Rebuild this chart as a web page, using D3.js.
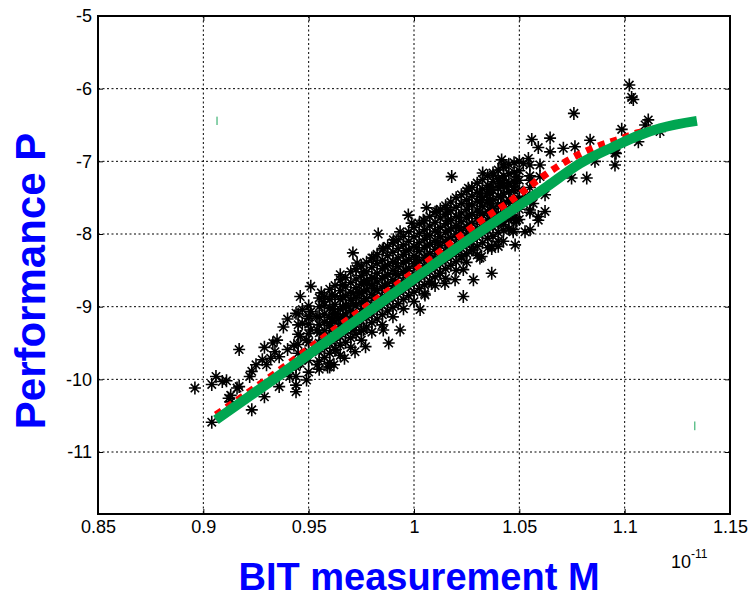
<!DOCTYPE html>
<html>
<head>
<meta charset="utf-8">
<script src="https://cdn.jsdelivr.net/npm/d3@7"></script>
<style>
  body { margin: 0; background: #fff; }
  svg { display: block; font-family: "Liberation Sans", Arial, sans-serif; }
</style>
</head>
<body>
<div id="chart-area"></div>
<script>
// axis ticks
const xTicks = [0.85, 0.9, 0.95, 1, 1.05, 1.1, 1.15]
const xTickLabels = ["0.85", "0.9", "0.95", "1", "1.05", "1.1", "1.15"]
const yTicks = [-11, -10, -9, -8, -7, -6, -5]
const yTickLabels = ["-11", "-10", "-9", "-8", "-7", "-6", "-5"]

// fitted curve (green) and model curve (red dotted), M in 1e-11 units
const fitM = [0.906, 0.9364, 0.9663, 1.0, 1.0313, 1.0631, 1.0788, 1.0945, 1.1073, 1.1168, 1.1343]
const fitP = [-10.557, -9.938, -9.319, -8.617, -7.971, -7.348, -7.03, -6.802, -6.637, -6.545, -6.444]
const modelM = [0.906, 0.9364, 0.9639, 1.0, 1.0209, 1.0337, 1.0465, 1.0589, 1.0717, 1.085, 1.0992, 1.1059, 1.1192, 1.1334]
const modelP = [-10.488, -9.869, -9.278, -8.521, -8.053, -7.778, -7.531, -7.256, -7.008, -6.816, -6.678, -6.609, -6.527, -6.444]

// scattered measurements outside the dense core
const scatterSparse = [
  [0.896,-10.12],[0.904,-10.07],[0.906,-9.96],[0.909,-10.03],[0.911,-10.02],[0.904,-10.59],
  [0.912,-10.26],[0.913,-10.31],[0.916,-10.12],[0.917,-10.10],[0.913,-10.22],[0.917,-9.59],
  [0.922,-9.96],[0.923,-9.89],[0.925,-9.80],[0.928,-9.73],[0.929,-9.56],[0.930,-9.80],
  [0.932,-9.71],[0.933,-9.50],[0.934,-9.62],[0.935,-9.46],[0.936,-9.69],[0.936,-10.10],
  [0.929,-10.24],[0.923,-10.42],[0.938,-9.28],[0.940,-9.17],[0.940,-9.59],[0.941,-9.96],
  [0.941,-9.87],[0.943,-9.53],[0.944,-10.17],[0.944,-9.96],[0.944,-9.83],[0.944,-10.08],
  [0.946,-9.78],[0.949,-10.01],[0.946,-9.41],[0.947,-9.23],[0.944,-9.09],[0.946,-8.86],
  [0.947,-9.04],[0.949,-9.46],[0.950,-9.16],[0.951,-9.07],[0.951,-8.72],[0.951,-9.32],
  [0.954,-9.14],[0.954,-9.32],[0.954,-9.80],[0.956,-8.81],[0.957,-8.93],[0.957,-9.46],
  [0.959,-9.83],[0.960,-9.23],[0.961,-8.84],[0.962,-9.11],[0.962,-9.80],[0.963,-9.59],
  [0.964,-9.16],[0.965,-8.56],[0.966,-8.70],[0.966,-9.32],[0.967,-9.71],[0.968,-9.00],
  [0.971,-8.26],[0.971,-9.32],[0.972,-9.62],[0.973,-8.40],[0.973,-9.14],[0.974,-8.81],
  [0.976,-8.52],[0.976,-9.32],[0.977,-9.55],[0.978,-9.04],[0.978,-8.68],[0.960,-9.83],
  [0.988,-9.50],
  [0.983,-8.00],[0.9934,-7.97],[0.9973,-7.74],[0.9989,-7.85],[1.0044,-7.81],[1.006,-7.64],
  [1.0108,-7.69],[1.0155,-7.67],[1.0179,-7.21],[1.0258,-7.37],[1.0313,-7.44],[1.0326,-7.16],
  [1.0368,-7.39],[1.0377,-7.19],[1.0424,-7.26],[1.048,-7.30],[0.9807,-8.33],[0.9854,-8.20],
  [0.9902,-8.08],[1.0369,-8.54],[1.0282,-8.63],[1.0234,-8.86],[1.0147,-8.68],[1.0195,-8.63],
  [1.0234,-8.49],[1.0226,-8.31],[1.0313,-8.33],[1.0369,-8.20],[1.0424,-8.10],[1.048,-8.15],
  [1.0282,-8.22],[1.0471,-7.97],[1.048,-7.81],[1.0456,-7.55],[0.9934,-9.32],[0.9854,-9.32],
  [1.0029,-9.04],[1.0052,-8.84],[1.0084,-8.68],[1.0123,-8.54],
  [1.0759,-6.34],[1.0559,-6.70],[1.0646,-6.68],[1.059,-6.81],[1.0646,-6.87],[1.0709,-6.82],
  [1.0764,-6.80],[1.0836,-6.71],[1.0986,-6.56],[1.1097,-6.50],[1.1112,-6.43],[1.1065,-6.73],
  [1.0954,-6.88],[1.0954,-7.05],[1.082,-7.23],[1.0748,-7.23],[1.0622,-7.46],[1.0622,-7.69],
  [1.059,-7.76],[1.0543,-6.96],[1.0519,-7.03],[1.0416,-6.98],[1.0424,-7.05],[1.0598,-7.05],
  [1.0598,-7.21],[1.0551,-7.26],[1.0488,-7.21],[1.0471,-7.39],[1.0408,-7.30],[1.0345,-7.44],
  [1.0527,-7.48],[1.0566,-7.58],[1.0551,-7.67],[1.0488,-7.81],[1.0527,-7.97],[1.0471,-7.94],
  [1.0424,-7.87],[1.0377,-7.71],[1.036,-7.58],[1.0321,-7.53],[1.0369,-8.17],[1.0321,-8.31],
  [1.044,-7.35],[1.0495,-7.55],[1.1022,-5.95],[1.1033,-6.12],[1.1041,-6.15],[1.1168,-6.59],
  [1.0959,-6.89],[1.0859,-7.0],[1.059,-7.81],[1.0551,-7.94],[1.040,-8.17]
]

// dense core: M column and the P values read down that column
const coreColumns = [
  [0.945, [-9.10,-9.25,-9.38,-9.52,-9.64,-9.78]],
  [0.950, [-8.99,-9.13,-9.24,-9.37,-9.49,-9.62,-9.74,-9.90]],
  [0.955, [-8.88,-9.00,-9.14,-9.25,-9.36,-9.50,-9.62,-9.75,-9.86]],
  [0.9575, [-8.86,-8.98,-9.10,-9.21,-9.33,-9.45,-9.57,-9.70]],
  [0.960, [-8.76,-8.90,-9.02,-9.15,-9.26,-9.40,-9.51,-9.64,-9.77]],
  [0.9625, [-8.71,-8.85,-8.97,-9.09,-9.21,-9.34,-9.46,-9.60]],
  [0.965, [-8.63,-8.78,-8.90,-9.04,-9.15,-9.28,-9.41,-9.53,-9.67]],
  [0.9675, [-8.60,-8.73,-8.85,-8.98,-9.10,-9.23,-9.36,-9.49]],
  [0.970, [-8.52,-8.67,-8.80,-8.91,-9.05,-9.17,-9.30,-9.43,-9.56]],
  [0.9725, [-8.48,-8.62,-8.74,-8.87,-8.99,-9.12,-9.25,-9.38]],
  [0.975, [-8.44,-8.57,-8.69,-8.81,-8.94,-9.07,-9.19,-9.33,-9.46]],
  [0.9775, [-8.39,-8.52,-8.64,-8.77,-8.89,-9.02,-9.15,-9.28]],
  [0.980, [-8.33,-8.46,-8.60,-8.71,-8.83,-8.97,-9.10,-9.22,-9.35]],
  [0.9825, [-8.28,-8.41,-8.54,-8.66,-8.78,-8.91,-9.04,-9.17]],
  [0.985, [-8.22,-8.36,-8.48,-8.61,-8.73,-8.86,-8.98,-9.11,-9.25]],
  [0.9875, [-8.17,-8.30,-8.43,-8.56,-8.68,-8.80,-8.93,-9.06]],
  [0.990, [-8.12,-8.25,-8.38,-8.50,-8.63,-8.75,-8.88,-9.01,-9.14]],
  [0.9925, [-8.08,-8.20,-8.33,-8.45,-8.57,-8.70,-8.83,-8.96]],
  [0.995, [-8.03,-8.15,-8.28,-8.40,-8.52,-8.65,-8.77,-8.90,-9.03]],
  [0.9975, [-7.97,-8.10,-8.22,-8.35,-8.47,-8.60,-8.72,-8.85]],
  [1.000, [-7.91,-8.04,-8.17,-8.30,-8.41,-8.55,-8.67,-8.80,-8.93]],
  [1.0025, [-7.86,-7.99,-8.12,-8.24,-8.37,-8.49,-8.62,-8.75]],
  [1.005, [-7.82,-7.94,-8.07,-8.19,-8.32,-8.44,-8.57,-8.70,-8.82]],
  [1.0075, [-7.76,-7.89,-8.02,-8.14,-8.27,-8.39,-8.52,-8.65]],
  [1.010, [-7.70,-7.84,-7.96,-8.09,-8.21,-8.33,-8.46,-8.59,-8.71]],
  [1.0125, [-7.66,-7.78,-7.91,-8.04,-8.16,-8.28,-8.41,-8.54]],
  [1.015, [-7.61,-7.73,-7.86,-7.98,-8.10,-8.23,-8.36,-8.48,-8.61]],
  [1.0175, [-7.56,-7.68,-7.81,-7.93,-8.05,-8.18,-8.31,-8.43]],
  [1.020, [-7.50,-7.63,-7.76,-7.88,-8.00,-8.13,-8.25,-8.38,-8.50]],
  [1.0225, [-7.46,-7.58,-7.71,-7.83,-7.95,-8.08,-8.20,-8.33]],
  [1.025, [-7.41,-7.53,-7.66,-7.78,-7.90,-8.02,-8.15,-8.27,-8.39]],
  [1.0275, [-7.36,-7.48,-7.60,-7.73,-7.85,-7.97,-8.10,-8.22]],
  [1.030, [-7.30,-7.43,-7.55,-7.67,-7.79,-7.92,-8.04,-8.17,-8.29]],
  [1.0325, [-7.25,-7.38,-7.50,-7.62,-7.74,-7.87,-7.99,-8.12]],
  [1.035, [-7.20,-7.33,-7.45,-7.57,-7.69,-7.81,-7.94,-8.06,-8.19]],
  [1.0375, [-7.16,-7.28,-7.40,-7.53,-7.65,-7.77,-7.90,-8.03]],
  [1.040, [-7.12,-7.24,-7.36,-7.48,-7.60,-7.72,-7.85,-7.98,-8.10]],
  [1.0425, [-7.08,-7.20,-7.33,-7.45,-7.57,-7.70,-7.83,-7.95]],
  [1.045, [-7.04,-7.17,-7.30,-7.42,-7.54,-7.66,-7.80,-7.93]],
  [1.0475, [-7.02,-7.15,-7.28,-7.40,-7.53,-7.66,-7.79]],
  [1.050, [-7.00,-7.13,-7.26,-7.39,-7.52,-7.66,-7.80]],
  [1.055, [-7.05,-7.20,-7.36,-7.52,-7.70]]
]

// extra points in the solid centre of the band
const coreFill = [
  [0.9612,-9.03],[0.9612,-9.17],[0.9612,-9.30],
  [0.9662,-8.86],[0.9662,-9.00],[0.9662,-9.14],[0.9662,-9.28],
  [0.9712,-8.82],[0.9712,-8.96],[0.9712,-9.08],
  [0.9762,-8.65],[0.9762,-8.79],[0.9762,-8.93],[0.9762,-9.07],
  [0.9812,-8.61],[0.9812,-8.75],[0.9812,-8.87],
  [0.9862,-8.44],[0.9862,-8.58],[0.9862,-8.72],[0.9862,-8.86],
  [0.9912,-8.40],[0.9912,-8.54],[0.9912,-8.66],
  [0.9962,-8.23],[0.9962,-8.37],[0.9962,-8.51],[0.9962,-8.65],
  [1.0012,-8.19],[1.0012,-8.33],[1.0012,-8.45],
  [1.0062,-8.02],[1.0062,-8.16],[1.0062,-8.30],[1.0062,-8.44],
  [1.0112,-7.98],[1.0112,-8.12],[1.0112,-8.24],
  [1.0162,-7.81],[1.0162,-7.95],[1.0162,-8.09],[1.0162,-8.23],
  [1.0212,-7.77],[1.0212,-7.91],[1.0212,-8.03],
  [1.0262,-7.60],[1.0262,-7.74],[1.0262,-7.88],[1.0262,-8.02],
  [1.0312,-7.56],[1.0312,-7.70],[1.0312,-7.82],
  [1.0362,-7.39],[1.0362,-7.53],[1.0362,-7.67],[1.0362,-7.81],
  [1.0412,-7.35],[1.0412,-7.49],[1.0412,-7.61]
]

// two stray green ticks left in the figure
const strayMarks = [[0.9065, -6.385, -6.50], [1.1333, -10.58, -10.70]]

const MARGIN = { LEFT: 98, RIGHT: 20, TOP: 16, BOTTOM: 84 }
const WIDTH = 750 - MARGIN.LEFT - MARGIN.RIGHT
const HEIGHT = 598 - MARGIN.TOP - MARGIN.BOTTOM

const svg = d3.select("#chart-area").append("svg")
  .attr("width", 750)
  .attr("height", 598)

const g = svg.append("g")
  .attr("transform", `translate(${MARGIN.LEFT}, ${MARGIN.TOP})`)

const x = d3.scaleLinear().domain([0.85, 1.15]).range([0, WIDTH])
const y = d3.scaleLinear().domain([-11.853, -5]).range([HEIGHT, 0])

// dotted grid
g.append("g").selectAll("line").data(xTicks).enter().append("line")
  .attr("x1", d => x(d)).attr("x2", d => x(d))
  .attr("y1", 0).attr("y2", HEIGHT)
  .attr("stroke", "#000").attr("stroke-width", 1).attr("stroke-dasharray", "2,2.5")
g.append("g").selectAll("line").data(yTicks).enter().append("line")
  .attr("x1", 0).attr("x2", WIDTH)
  .attr("y1", d => y(d)).attr("y2", d => y(d))
  .attr("stroke", "#000").attr("stroke-width", 1).attr("stroke-dasharray", "2,2.5")

// axes with inward ticks
const xAxis = d3.axisBottom(x).tickValues(xTicks)
  .tickFormat((d, i) => xTickLabels[i]).tickSizeInner(-5).tickSizeOuter(0).tickPadding(6)
const yAxis = d3.axisLeft(y).tickValues(yTicks)
  .tickFormat((d, i) => yTickLabels[i]).tickSizeInner(-5).tickSizeOuter(0).tickPadding(6)

g.append("g").attr("transform", `translate(0, ${HEIGHT})`).call(xAxis)
g.append("g").call(yAxis)
g.append("g").call(d3.axisTop(x).tickValues(xTicks).tickFormat("").tickSizeInner(-5).tickSizeOuter(0))
g.append("g").attr("transform", `translate(${WIDTH}, 0)`)
  .call(d3.axisRight(y).tickValues(yTicks).tickFormat("").tickSizeInner(-5).tickSizeOuter(0))

g.selectAll(".domain").remove()
g.selectAll(".tick line").attr("stroke", "#000").attr("stroke-width", 1)
g.selectAll(".tick text").attr("font-size", 18).attr("fill", "#000")
  .attr("font-family", "Liberation Sans, Arial, sans-serif")

// measurements as asterisks
const allPoints = scatterSparse.concat(
  coreColumns.flatMap(c => c[1].map(p => [c[0], p])), coreFill)
const star = "M0,-6.5V6.5M-6,0H6M-4.2,-4.2L4.2,4.2M-4.2,4.2L4.2,-4.2"
g.append("g").selectAll("path").data(allPoints).enter().append("path")
  .attr("d", star)
  .attr("transform", d => `translate(${x(d[0])}, ${y(d[1])})`)
  .attr("fill", "none").attr("stroke", "#000").attr("stroke-width", 1.6)

const line = d3.line().curve(d3.curveMonotoneX)
  .x(d => x(d[0])).y(d => y(d[1]))

g.append("path")
  .datum(modelM.map((m, i) => [m, modelP[i]]))
  .attr("d", line)
  .attr("fill", "none").attr("stroke", "#ff0000")
  .attr("stroke-width", 7).attr("stroke-dasharray", "7,6")

g.append("path")
  .datum(fitM.map((m, i) => [m, fitP[i]]))
  .attr("d", line)
  .attr("fill", "none").attr("stroke", "#00a651").attr("stroke-width", 10)

g.append("g").selectAll("line").data(strayMarks).enter().append("line")
  .attr("x1", d => x(d[0])).attr("x2", d => x(d[0]))
  .attr("y1", d => y(d[1])).attr("y2", d => y(d[2]))
  .attr("stroke", "#1aa55a").attr("stroke-width", 1)

// box
g.append("rect")
  .attr("width", WIDTH).attr("height", HEIGHT)
  .attr("fill", "none").attr("stroke", "#000").attr("stroke-width", 2)

// exponent label
const expo = svg.append("text")
  .attr("x", 671).attr("y", 568)
  .attr("font-size", 18).attr("fill", "#000")
expo.append("tspan").text("10")
expo.append("tspan").attr("dy", -10).attr("font-size", 12).text("-11")

// axis titles
svg.append("text")
  .attr("x", 419).attr("y", 590)
  .attr("text-anchor", "middle")
  .attr("font-size", 38).attr("font-weight", "bold").attr("fill", "#0000ff")
  .text("BIT measurement M")

svg.append("text")
  .attr("transform", "translate(45, 281) rotate(-90)")
  .attr("text-anchor", "middle")
  .attr("font-size", 42).attr("font-weight", "bold").attr("fill", "#0000ff")
  .text("Performance P")
</script>
</body>
</html>
